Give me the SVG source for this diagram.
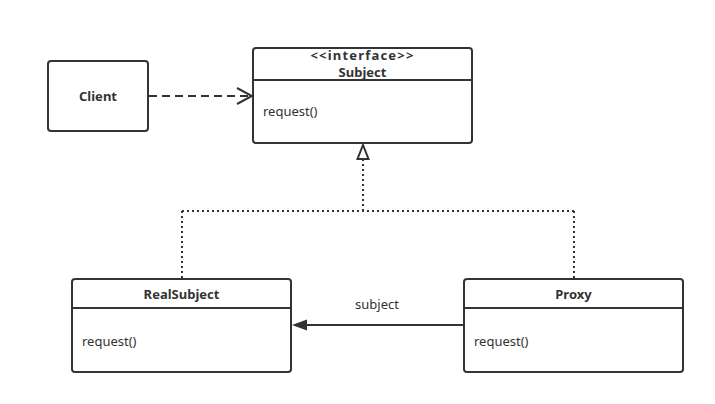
<svg xmlns="http://www.w3.org/2000/svg" width="715" height="404" viewBox="0 0 715 404">
<defs>
<style>
.box{fill:#fff;stroke:#333;stroke-width:2}
.div{stroke:#333;stroke-width:2}
.t{font-family:"Noto Sans","Open Sans",sans-serif;font-size:13px;fill:#333}
.b{font-weight:bold;text-anchor:middle}
.dash{fill:none;stroke:#333;stroke-width:2;stroke-dasharray:8,5}
.dot{fill:none;stroke:#333;stroke-width:2;stroke-dasharray:2,3}
.solid{fill:none;stroke:#333;stroke-width:2}
</style>
<marker id="open" markerWidth="18" markerHeight="18" refX="16" refY="9" orient="auto" markerUnits="userSpaceOnUse">
<path d="M1,1 L16,9 L1,17" fill="none" stroke="#333" stroke-width="2"/>
</marker>
<marker id="filled" markerWidth="16" markerHeight="12" refX="1" refY="6" orient="auto-start-reverse" markerUnits="userSpaceOnUse">
<path d="M1,6 L15,1 L15,11 Z" fill="#333"/>
</marker>
</defs>
<rect width="715" height="404" fill="#fff"/>
<g id="connectors">
<path class="dash" d="M149,96 L252,96" marker-end="url(#open)"/>
<path class="dot" d="M363,159 L363,211 M182,211 L574,211 M182,211 L182,279 M574,211 L574,279"/>
<path d="M363,145 L368.5,159 L357.5,159 Z" fill="#fff" stroke="#333" stroke-width="2"/>
<path class="solid" d="M463,325 L306,325"/>
<path d="M292,325 L307,319.5 L307,330.5 Z" fill="#333"/>
<text class="t" x="377" y="309" text-anchor="middle">subject</text>
</g>
<g id="client">
<rect class="box" x="48" y="61" width="100" height="70" rx="3"/>
<text class="t b" x="98" y="101">Client</text>
</g>
<g id="subject">
<rect class="box" x="253" y="48" width="219" height="95" rx="3"/>
<line class="div" x1="253" y1="80" x2="472" y2="80"/>
<text class="t b" x="362.5" y="60" font-size="12" letter-spacing="1.2">&lt;&lt;interface&gt;&gt;</text>
<text class="t b" x="362.5" y="77">Subject</text>
<text class="t" x="263" y="116">request()</text>
</g>
<g id="realsubject">
<rect class="box" x="72" y="279" width="219" height="93" rx="3"/>
<line class="div" x1="72" y1="308" x2="291" y2="308"/>
<text class="t b" x="181.5" y="299">RealSubject</text>
<text class="t" x="82" y="346">request()</text>
</g>
<g id="proxy">
<rect class="box" x="464" y="279" width="219" height="93" rx="3"/>
<line class="div" x1="464" y1="308" x2="683" y2="308"/>
<text class="t b" x="573.5" y="299">Proxy</text>
<text class="t" x="474" y="346">request()</text>
</g>
</svg>
